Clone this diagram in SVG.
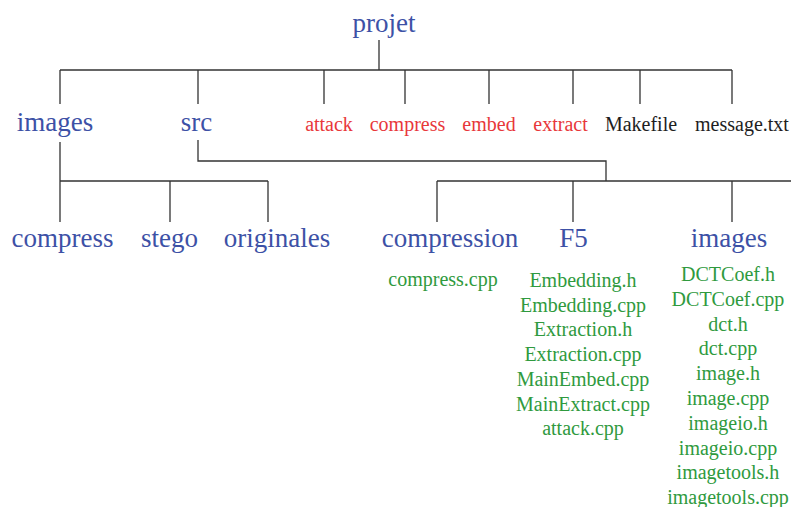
<svg xmlns="http://www.w3.org/2000/svg" width="791" height="507" viewBox="0 0 791 507" font-family="'Liberation Serif', 'DejaVu Serif', serif">
<style>
text{font-family:'Liberation Serif','DejaVu Serif',serif;text-anchor:middle}
.dir{font-size:27px;fill:#3d51a6}
.red{font-size:20px;fill:#e8373a}
.blk{font-size:20px;fill:#1e1e1e}
.grn{font-size:20px;fill:#2f9a3e}
#connectors path{fill:none;stroke:#333;stroke-width:1.3}
</style>
<rect width="791" height="507" fill="#fff"/>
<g id="connectors">
<path d="M379 40V70M60 70H732M60 70V104M198 70V104M324 70V104M405 70V104M489 70V104M573 70V104M640 70V104M732 70V104"/>
<path d="M60 142V181H268M60 181V222M170 181V222M268 181V222"/>
<path d="M198 140V161H606V181M437 181H791M437 181V222M573 181V222M732 181V222"/>
</g>
<g id="projet"><text class="dir" x="384" y="32">projet</text></g>
<g id="images"><text class="dir" x="55" y="131">images</text></g>
<g id="src"><text class="dir" x="196.5" y="131">src</text></g>
<g id="attack"><text class="red" x="329" y="131">attack</text></g>
<g id="compress-top"><text class="red" x="407.5" y="131">compress</text></g>
<g id="embed"><text class="red" x="489" y="131">embed</text></g>
<g id="extract"><text class="red" x="560.5" y="131">extract</text></g>
<g id="makefile"><text class="blk" x="641" y="131">Makefile</text></g>
<g id="message"><text class="blk" x="742" y="131">message.txt</text></g>
<g id="images-compress"><text class="dir" x="62.5" y="247">compress</text></g>
<g id="stego"><text class="dir" x="169.5" y="247">stego</text></g>
<g id="originales"><text class="dir" x="277" y="247">originales</text></g>
<g id="compression"><text class="dir" x="450" y="247">compression</text>
<text class="grn" x="443" y="286">compress.cpp</text></g>
<g id="f5"><text class="dir" x="573.5" y="247">F5</text>
<text class="grn" x="583" y="287">Embedding.h</text>
<text class="grn" x="583" y="311.7">Embedding.cpp</text>
<text class="grn" x="583" y="336.4">Extraction.h</text>
<text class="grn" x="583" y="361.1">Extraction.cpp</text>
<text class="grn" x="583" y="385.8">MainEmbed.cpp</text>
<text class="grn" x="583" y="410.5">MainExtract.cpp</text>
<text class="grn" x="583" y="435.2">attack.cpp</text></g>
<g id="src-images"><text class="dir" x="729" y="247">images</text>
<text class="grn" x="728" y="281">DCTCoef.h</text>
<text class="grn" x="728" y="305.8">DCTCoef.cpp</text>
<text class="grn" x="728" y="330.6">dct.h</text>
<text class="grn" x="728" y="355.4">dct.cpp</text>
<text class="grn" x="728" y="380.2">image.h</text>
<text class="grn" x="728" y="405">image.cpp</text>
<text class="grn" x="728" y="429.8">imageio.h</text>
<text class="grn" x="728" y="454.6">imageio.cpp</text>
<text class="grn" x="728" y="479.4">imagetools.h</text>
<text class="grn" x="728" y="504.2">imagetools.cpp</text></g>
</svg>
